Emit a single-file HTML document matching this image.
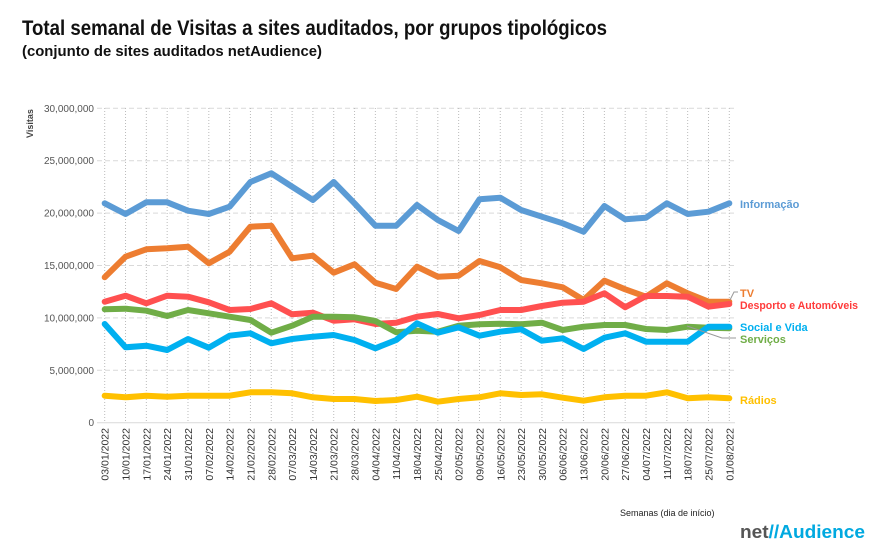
<!DOCTYPE html>
<html><head><meta charset="utf-8"><style>
body{margin:0;background:#fff;}
svg{display:block;font-family:"Liberation Sans",sans-serif;}
</style></head><body>
<svg id="s" width="877" height="548" viewBox="0 0 877 548" xmlns="http://www.w3.org/2000/svg">
<text x="22" y="35" font-size="21" font-weight="bold" fill="#111" textLength="585" lengthAdjust="spacingAndGlyphs">Total semanal de Visitas a sites auditados, por grupos tipológicos</text>
<text x="22" y="56" font-size="15" font-weight="bold" fill="#111" textLength="300" lengthAdjust="spacingAndGlyphs">(conjunto de sites auditados netAudience)</text>
<text transform="translate(33,138) rotate(-90)" font-size="9" font-weight="bold" fill="#444">Visitas</text>
<g id="grid"></g>
<g id="series" fill="none" stroke-width="6" stroke-linejoin="round" stroke-linecap="round"></g>
<polyline points="730,300 734,292 738,292" fill="none" stroke="#999" stroke-width="1"/>
<polyline points="687,326 722,338 736,338" fill="none" stroke="#999" stroke-width="1"/>
<g font-size="11" font-weight="bold">
<text x="740" y="208" fill="#5b9bd5">Informação</text>
<text x="740" y="297" fill="#ed7d31">TV</text>
<text x="740" y="309" fill="#ff3b3b" textLength="118" lengthAdjust="spacingAndGlyphs">Desporto e Automóveis</text>
<text x="740" y="331" fill="#00b0f0">Social e Vida</text>
<text x="740" y="343" fill="#70ad47">Serviços</text>
<text x="740" y="404" fill="#ffc000">Rádios</text>
</g>
<text x="620" y="516" font-size="9" fill="#222">Semanas  (dia de início)</text>
<text x="740" y="538" font-size="18" font-weight="bold" fill="#555" textLength="125" lengthAdjust="spacingAndGlyphs">net<tspan fill="#00a9e0">//Audience</tspan></text>
</svg>
<script>
const s=document.getElementById('s'),g=document.getElementById('grid'),se=document.getElementById('series');
const NS='http://www.w3.org/2000/svg';
function el(t,a,p,txt){const e=document.createElementNS(NS,t);for(const k in a)e.setAttribute(k,a[k]);if(txt)e.textContent=txt;p.appendChild(e);return e;}
const x0=104.7,dx=20.82,y0=422.7,py=10.48;
const labs=['03/01','10/01','17/01','24/01','31/01','07/02','14/02','21/02','28/02','07/03','14/03','21/03','28/03','04/04','11/04','18/04','25/04','02/05','09/05','16/05','23/05','30/05','06/06','13/06','20/06','27/06','04/07','11/07','18/07','25/07','01/08'];
for(let i=0;i<=6;i++){const y=y0-i*5*py;
 if(i>0)el('line',{x1:97,x2:735,y1:y,y2:y,stroke:'#d9d9d9','stroke-dasharray':'5,3'},g);
 else el('line',{x1:97,x2:735,y1:y,y2:y,stroke:'#d9d9d9'},g);
 el('text',{x:94,y:y+3.5,'font-size':10,fill:'#555','text-anchor':'end'},g,i==0?'0':(i*5)+',000,000');}
labs.forEach((l,i)=>{const x=x0+i*dx;
 el('line',{x1:x,x2:x,y1:108,y2:y0,stroke:'#bbb','stroke-dasharray':'1,2'},g);
 el('text',{transform:`translate(${x+4},428) rotate(-90)`,'font-size':10.5,fill:'#333','text-anchor':'end'},g,l+'/2022');});
const a=[
['#5b9bd5',[130,162,127,127,152,162,140,66,40,80,120,66,130,197,197,135],[180,213,118,113,150,170,190,215,138,178,173,130,162,155,130]],
['#ed7d31',[352,290,268,265,260,310,275,200,197,295,287,338,313,368,387,320],[350,347,303,322,360,370,382,420,362,388,410,370,400,425,425]],
['#ff5050',[425,407,430,407,410,427,450,447,430,463,458,482,478,492,488,470],[462,475,465,450,450,438,428,425,400,442,408,408,410,440,432]],
['#70ad47',[448,446,452,468,450,460,470,480,518,497,470,470,472,483,517,512],[515,497,493,491,493,488,510,500,495,495,507,510,500,503,505]],
['#00b0f0',[492,562,557,570,537,563,527,520,550,537,530,525,540,565,540,490],[518,502,527,515,508,542,535,567,533,520,545,545,545,500,500]],
['#ffc000',[707,712,707,710,707,707,707,697,697,700,712,717,717,723,720,710],[725,717,712,700,705,703,713,722,712,707,707,697,715,712,715]]];
a.forEach(([c,p1,p2])=>{const v=p1.concat(p2);
 el('polyline',{points:v.map((q,i)=>(x0+i*dx).toFixed(1)+','+(160+q/3).toFixed(1)).join(' '),stroke:c},se);});
</script>
</body></html>
